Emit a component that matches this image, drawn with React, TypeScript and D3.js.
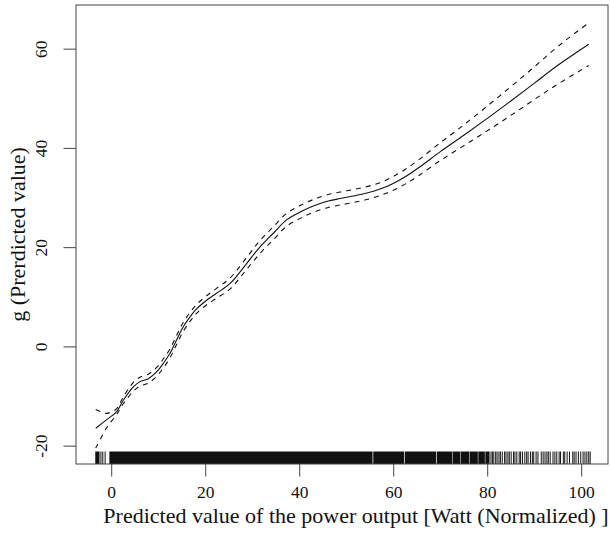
import React from "react";
import * as d3 from "d3";

// values
const xs = [-3.4, -1, 1, 2.5, 4.6, 6, 7.8, 9.6, 11, 12.4, 13.8, 15.2, 16.7, 18.1, 20.2, 22.3, 25.2, 28.7, 31.6, 34.4, 37.2, 40.1, 42.9, 45.7, 48.6, 51.4, 54.3, 57.1, 60, 62.8, 65.6, 70, 75, 80, 85, 90, 95, 101.5];
const fit = [-16.4, -14.6, -13.1, -10.7, -8.05, -7.0, -6.4, -5.0, -3.3, -1.3, 1.4, 4.0, 6.1, 7.7, 9.4, 10.8, 12.8, 16.8, 20.2, 22.9, 25.6, 27.2, 28.4, 29.3, 29.9, 30.4, 31.0, 31.8, 33.0, 34.5, 36.3, 39.4, 42.7, 46.1, 49.6, 53.2, 56.8, 61.0];
const upper = [-12.6, -13.4, -12.5, -10.0, -7.15, -6.1, -5.5, -4.1, -2.4, -0.4, 2.3, 4.9, 7.0, 8.6, 10.3, 11.8, 13.9, 18.0, 21.5, 24.2, 26.9, 28.5, 29.7, 30.6, 31.2, 31.7, 32.3, 33.1, 34.4, 36.0, 37.9, 41.2, 44.8, 48.6, 52.5, 56.5, 60.6, 65.3];
const lower = [-20.4, -16.2, -13.7, -11.4, -8.95, -7.9, -7.3, -5.9, -4.2, -2.2, 0.5, 3.1, 5.2, 6.8, 8.5, 9.8, 11.7, 15.6, 18.9, 21.6, 24.3, 25.9, 27.1, 28.0, 28.6, 29.1, 29.7, 30.5, 31.6, 33.0, 34.7, 37.6, 40.6, 43.6, 46.7, 49.9, 53.0, 56.7];

// rug: solid blocks where the ticks merge, then single ticks
const rugBlocks: [number, number][] = [[-3.5, -2.6], [-0.5, 55.5], [55.65, 62.2], [62.35, 69.0], [69.15, 72.5], [72.6, 74.2], [74.3, 76.1], [76.2, 77.9], [78.0, 79.4], [79.5, 80.4]];
const rugTicks = [-2.3, -1.9, -1.4, 80.7, 81.0, 81.3, 81.7, 82.0, 82.4, 82.7, 83.1, 83.6, 83.9, 84.3, 84.6, 85.0, 85.5, 85.8, 86.2, 86.7, 87.0, 87.4, 87.9, 88.3, 88.6, 89.1, 89.5, 89.8, 90.3, 90.7, 91.4, 91.8, 92.2, 92.6, 92.9, 93.3, 93.9, 94.3, 94.7, 95.2, 95.5, 96.1, 96.4, 96.9, 97.4, 98.1, 98.4, 98.8, 99.3, 99.8, 100.3, 100.7, 101.1, 101.5, 101.8];

const xTicks = [0, 20, 40, 60, 80, 100];
const yTicks = [-20, 0, 20, 40, 60];
const xTitle = "Predicted value of the power output [Watt (Normalized) ]";
const yTitle = "g (Prerdicted value)";

const W = 610, H = 533;
const L = 76, R = 608, T = 5, B = 464;
const font = "'Liberation Serif', 'Times New Roman', serif";

export default function App() {
  const x = d3.scaleLinear([-7.6, 105.6], [L, R]);
  const y = d3.scaleLinear([-23.6, 68.9], [B, T]);
  const line = (vals: number[]) =>
    d3.line<number>((_, i) => x(xs[i]), (d) => y(d)).curve(d3.curveCatmullRom.alpha(0.5))(vals) ?? "";
  const rugH = 12.5;

  return (
    <svg width={W} height={H} style={{ position: "absolute", left: 0, top: 0 }}>
      <rect width={W} height={H} fill="#fff" />
      <g>
        {rugBlocks.map(([a, b], i) => (
          <rect key={i} x={x(a)} y={B - rugH} width={x(b) - x(a)} height={rugH} fill="#111" />
        ))}
        {rugTicks.map((t, i) => (
          <line key={i} x1={x(t)} x2={x(t)} y1={B} y2={B - rugH} stroke="#111" strokeWidth={1} />
        ))}
      </g>
      <path d={line(fit)} fill="none" stroke="#111" strokeWidth={1.1} />
      <path d={line(upper)} fill="none" stroke="#111" strokeWidth={1.1} strokeDasharray="5,5" />
      <path d={line(lower)} fill="none" stroke="#111" strokeWidth={1.1} strokeDasharray="5,5" />
      <rect x={L} y={T} width={R - L} height={B - T} fill="none" stroke="#444" strokeWidth={1} />
      <g fontFamily={font} fill="#111">
        {xTicks.map((t) => (
          <g key={t}>
            <line x1={x(t)} x2={x(t)} y1={B} y2={B + 12.5} stroke="#444" />
            <text x={x(t)} y={498} textAnchor="middle" fontSize={17.5}>{t}</text>
          </g>
        ))}
        {yTicks.map((t) => (
          <g key={t}>
            <line x1={L - 12.5} x2={L} y1={y(t)} y2={y(t)} stroke="#444" />
            <text transform={`translate(47,${y(t)}) rotate(-90)`} textAnchor="middle" fontSize={17.5}>{t}</text>
          </g>
        ))}
        <text x={356} y={523} textAnchor="middle" fontSize={22}>{xTitle}</text>
        <text transform={`translate(25,${(T + B) / 2}) rotate(-90)`} textAnchor="middle" fontSize={22}>{yTitle}</text>
      </g>
    </svg>
  );
}
